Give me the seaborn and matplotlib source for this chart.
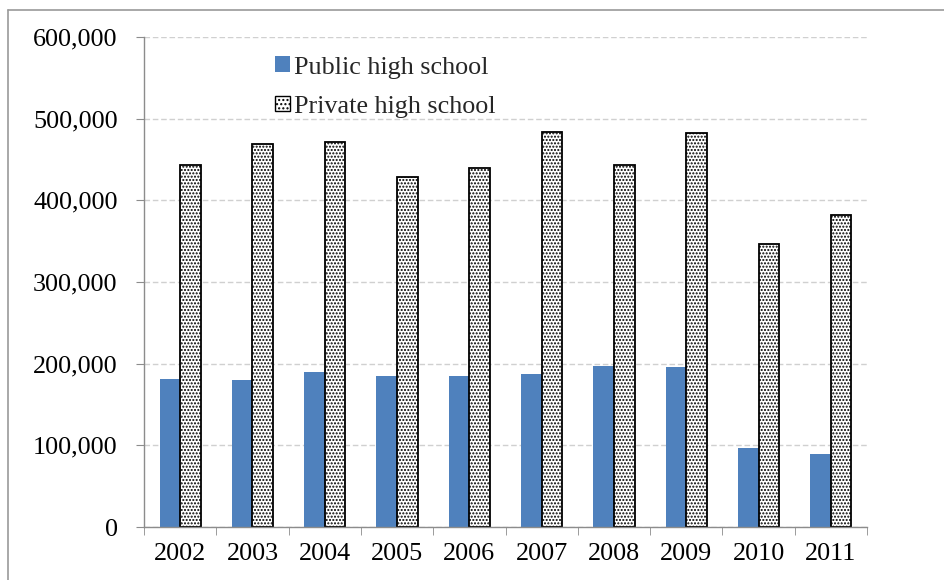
import matplotlib
matplotlib.use("Agg")
import matplotlib.pyplot as plt
import matplotlib.ticker as mticker
from matplotlib.patches import Patch
from matplotlib.lines import Line2D
import seaborn as sns
import pandas as pd

years = ["2002", "2003", "2004", "2005", "2006", "2007", "2008", "2009", "2010", "2011"]
public_vals = [181500, 179500, 189500, 185500, 185500, 187500, 197500, 195500, 97000, 89500]
private_vals = [443000, 469000, 471000, 428000, 439000, 484000, 443500, 482000, 347000, 382000]
series_names = ["Public high school", "Private high school"]
y_ticks = [0, 100000, 200000, 300000, 400000, 500000, 600000]

df = pd.DataFrame({
    "year": years * 2,
    "value": public_vals + private_vals,
    "series": [series_names[0]] * len(years) + [series_names[1]] * len(years),
})

sns.set_style("white")
plt.rcParams["font.family"] = ["Liberation Serif", "DejaVu Serif"]
plt.rcParams["hatch.linewidth"] = 1.0

fig = plt.figure(figsize=(9.44, 5.8), dpi=100)
ax = fig.add_axes([144 / 944, 1 - 527 / 580, (867 - 144) / 944, (527 - 37) / 580])

blue = "#4f81bd"
sns.barplot(data=df, x="year", y="value", hue="series", order=years,
            hue_order=series_names, palette=[blue, "white"], width=0.57,
            ax=ax, legend=False, saturation=1)

n = len(years)
for i, p in enumerate(ax.patches[:2 * n]):
    if i < n:
        p.set_edgecolor("none")
    else:
        p.set_facecolor("white")
        p.set_edgecolor("black")
        p.set_hatch(".....")
        p.set_linewidth(1.3)

ax.set_ylim(0, 600000)
ax.set_xlim(-0.5, n - 0.5)
ax.set_yticks(y_ticks)
ax.yaxis.set_major_formatter(mticker.FuncFormatter(lambda v, _: f"{int(v):,}"))
ax.set_xlabel("")
ax.set_ylabel("")

ax.grid(axis="y", color="#d0d0d0", linestyle=(0, (4, 2)), linewidth=1.0)
ax.set_axisbelow(True)

for s in ["top", "right"]:
    ax.spines[s].set_visible(False)
for s in ["left", "bottom"]:
    ax.spines[s].set_color("#8c8c8c")
    ax.spines[s].set_linewidth(1.0)

fs = 18.8
ax.tick_params(axis="y", which="major", left=True, direction="out", length=6,
               color="#8c8c8c", labelsize=fs, pad=13, labelcolor="black")
ax.tick_params(axis="x", which="major", bottom=False, labelsize=fs, pad=8,
               labelcolor="black")
ax.set_xticks(range(n))
ax.set_xticklabels(years)
ax.set_xticks([i - 0.5 for i in range(n + 1)], minor=True)
ax.tick_params(axis="x", which="minor", bottom=True, direction="out", length=6,
               color="#8c8c8c")

handles = [Patch(facecolor=blue, edgecolor="none"),
           Patch(facecolor="white", edgecolor="black", hatch="....", linewidth=1.0)]
fig.legend(handles, series_names, loc="upper left",
           bbox_to_anchor=(265 / 944, 1 - 46 / 580), frameon=False,
           fontsize=fs, handlelength=0.55, handleheight=0.55,
           handletextpad=0.15, labelspacing=0.65, borderaxespad=0)

fig.add_artist(Line2D([7.5 / 944, 7.5 / 944], [0, 1 - 10 / 580],
                      transform=fig.transFigure, color="#9a9a9a", linewidth=1.2))
fig.add_artist(Line2D([7.5 / 944, 1], [1 - 10 / 580, 1 - 10 / 580],
                      transform=fig.transFigure, color="#9a9a9a", linewidth=1.2))

fig.savefig("out.png", dpi=100, facecolor="white")
